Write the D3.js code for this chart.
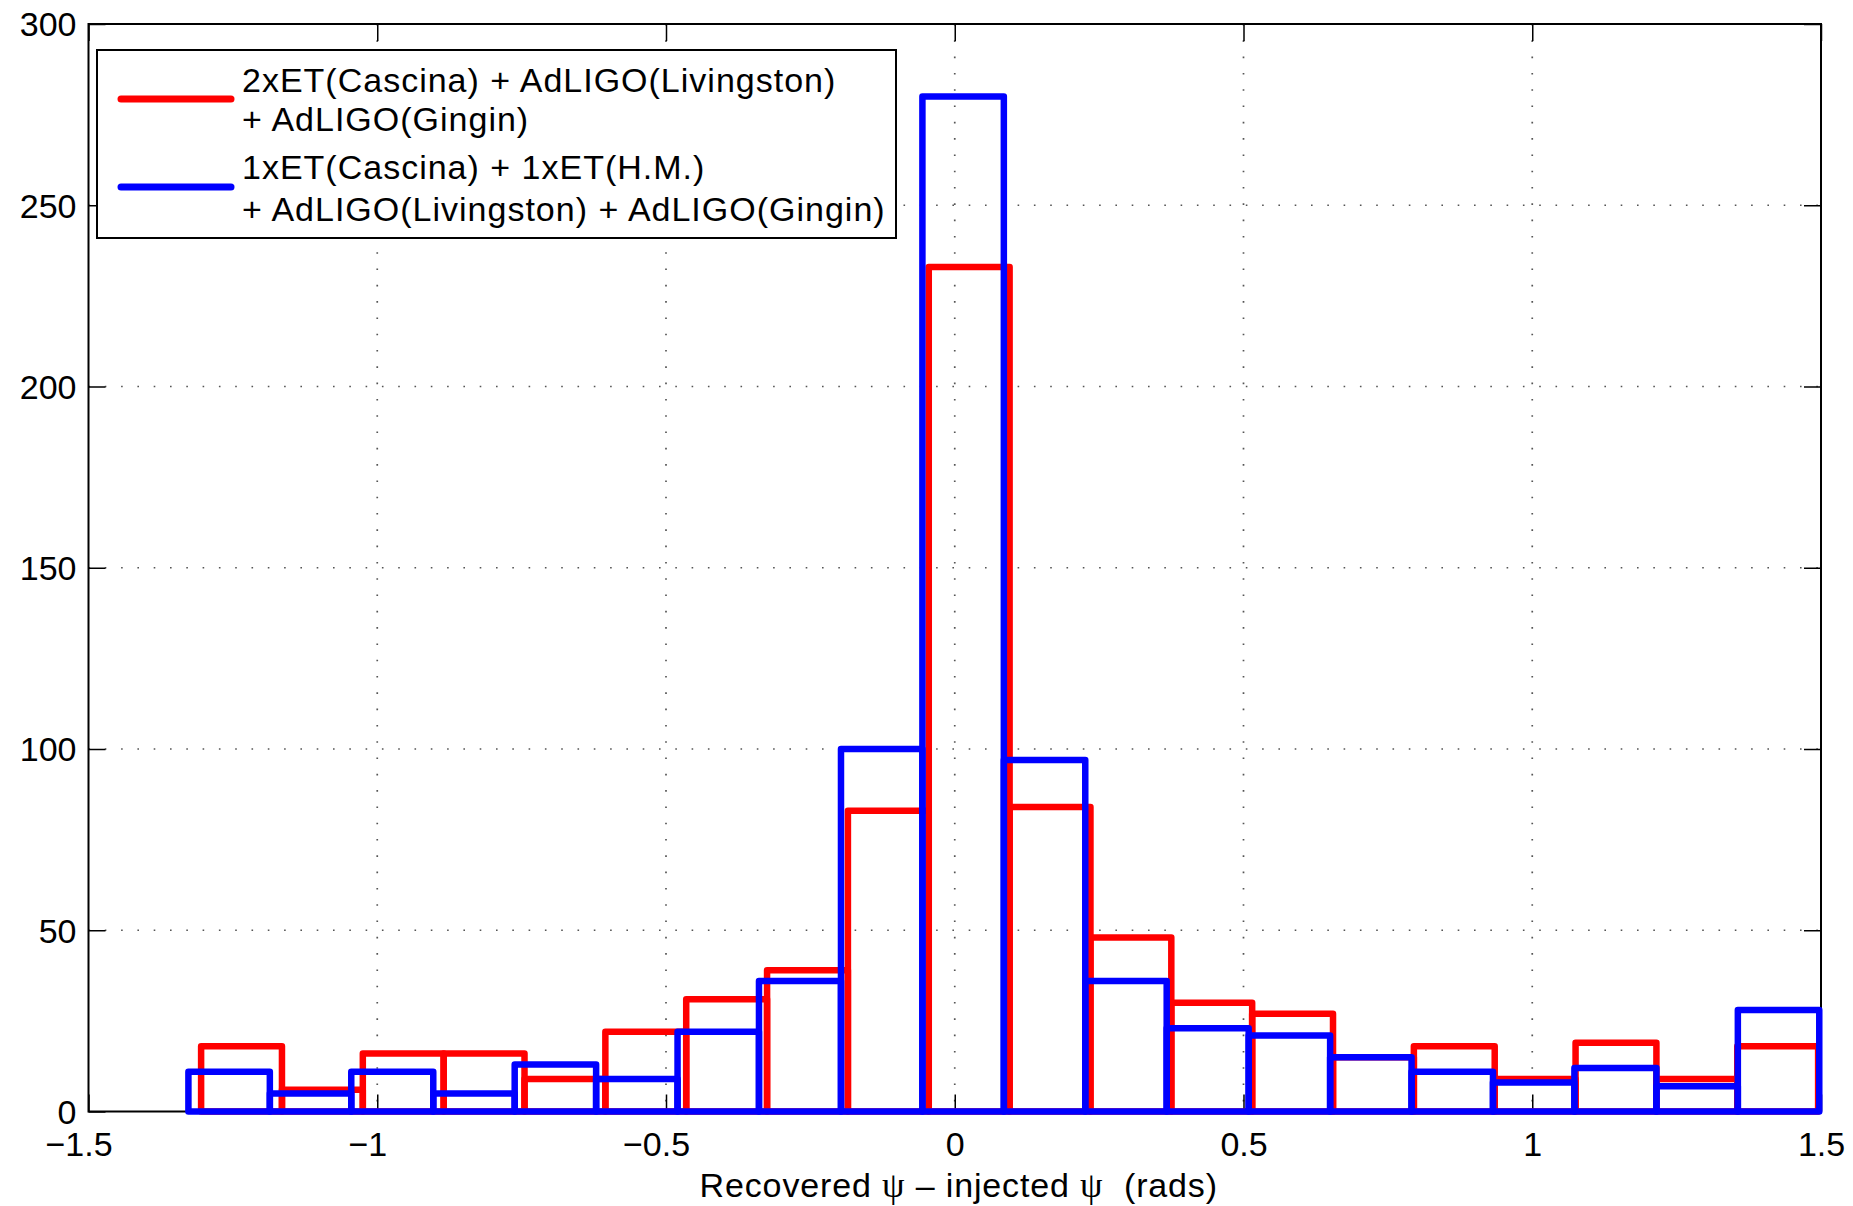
<!DOCTYPE html>
<html>
<head>
<meta charset="utf-8">
<script src="https://d3js.org/d3.v7.min.js"></script>
<style>
  html, body { margin: 0; padding: 0; background: #fff; }
  svg { display: block; }
  text { font-family: "Liberation Sans", Arial, Helvetica, sans-serif; }
</style>
</head>
<body>
<svg id="chart" width="1853" height="1206"></svg>
<script>
// ---- data ----
const redEdges  = [-1.305, -1.165, -1.025, -0.885, -0.745, -0.605, -0.465, -0.325, -0.185, -0.045,
                    0.095,  0.235,  0.375,  0.515,  0.655,  0.795,  0.935,  1.075,  1.215,  1.355, 1.495];
const redCounts = [18, 6, 16, 16, 9, 22, 31, 39, 83, 233, 84, 48, 30, 27, 15, 18, 9, 19, 9, 18];

const blueEdges  = [-1.327, -1.186, -1.045, -0.903, -0.762, -0.621, -0.480, -0.339, -0.197, -0.056,
                     0.085,  0.226,  0.367,  0.509,  0.650,  0.791,  0.932,  1.073,  1.215,  1.356, 1.497];
const blueCounts = [11, 5, 11, 5, 13, 9, 22, 36, 100, 280, 97, 36, 23, 21, 15, 11, 8, 12, 7, 28];

const xTicks = [-1.5, -1, -0.5, 0, 0.5, 1, 1.5];
const yTicks = [0, 50, 100, 150, 200, 250, 300];
const legendRed  = ["2xET(Cascina) + AdLIGO(Livingston)", "+ AdLIGO(Gingin)"];
const legendBlue = ["1xET(Cascina) + 1xET(H.M.)", "+ AdLIGO(Livingston) + AdLIGO(Gingin)"];
const xLabelParts = ["Recovered ", "ψ", " – injected ", "ψ", "  (rads)"];

// ---- layout ----
const svg = d3.select("#chart");
const L = 88.5, R = 1821, T = 24, B = 1111.5;
const x = d3.scaleLinear().domain([-1.5, 1.5]).range([L, R]);
const y = d3.scaleLinear().domain([0, 300]).range([B, T]);
const FS = 34;
const tickLen = 17;

// grid
const grid = svg.append("g").attr("stroke", "#555").attr("stroke-width", 1.7)
  .attr("stroke-dasharray", "1.6,14.7");
grid.selectAll("line.gx").data(xTicks.slice(1, -1)).join("line")
  .attr("x1", d => x(d)).attr("x2", d => x(d)).attr("y1", T).attr("y2", B);
grid.selectAll("line.gy").data(yTicks.slice(1, -1)).join("line")
  .attr("x1", L).attr("x2", R).attr("y1", d => y(d)).attr("y2", d => y(d));

// axes (drawn below data, like MATLAB default layer)
const fmt = d => String(d);
const gB = svg.append("g").attr("transform", `translate(0,${B})`)
  .call(d3.axisBottom(x).tickValues(xTicks).tickSizeInner(-tickLen).tickSizeOuter(0).tickPadding(20.5).tickFormat(d => fmt(Math.abs(d))));
const gT = svg.append("g").attr("transform", `translate(0,${T})`)
  .call(d3.axisTop(x).tickValues(xTicks).tickSizeInner(-tickLen).tickSizeOuter(0).tickFormat(""));
const gL = svg.append("g").attr("transform", `translate(${L},0)`)
  .call(d3.axisLeft(y).tickValues(yTicks).tickSizeInner(-tickLen).tickSizeOuter(0).tickPadding(12).tickFormat(fmt));
const gR = svg.append("g").attr("transform", `translate(${R},0)`)
  .call(d3.axisRight(y).tickValues(yTicks).tickSizeInner(-tickLen).tickSizeOuter(0).tickFormat(""));
[gB, gT, gL, gR].forEach(g => {
  g.select(".domain").remove();
  g.selectAll(".tick line").attr("stroke", "#000").attr("stroke-width", 1.5);
  g.selectAll("text").attr("font-size", FS).attr("fill", "#000")
    .attr("font-family", "'Liberation Sans', Arial, Helvetica, sans-serif");
});
gL.selectAll("text").attr("dy", "0.35em");
// negative labels: centre the numeric part, let the minus hang left (MATLAB style)
gB.selectAll(".tick text").each(function(d) {
  if (d < 0) {
    const t = d3.select(this);
    const w = this.getComputedTextLength();
    t.text("\u2212" + fmt(Math.abs(d))).attr("text-anchor", "end").attr("x", w / 2);
  }
});
// box
svg.append("rect").attr("x", L).attr("y", T).attr("width", R - L).attr("height", B - T)
  .attr("fill", "none").attr("stroke", "#000").attr("stroke-width", 2);

// histogram outlines
function drawHist(edges, counts, color) {
  const bins = counts.map((c, i) => ({x0: edges[i], x1: edges[i + 1], c}));
  svg.append("g").selectAll("rect").data(bins).join("rect")
    .attr("x", d => x(d.x0)).attr("y", d => y(d.c))
    .attr("width", d => x(d.x1) - x(d.x0)).attr("height", d => y(0) - y(d.c))
    .attr("fill", "none").attr("stroke", color).attr("stroke-width", 6.5)
    .attr("stroke-linejoin", "round");
}
drawHist(redEdges, redCounts, "#ff0000");
drawHist(blueEdges, blueCounts, "#0000ff");

// legend
const lg = svg.append("g");
lg.append("rect").attr("x", 97).attr("y", 50).attr("width", 799).attr("height", 188)
  .attr("fill", "#fff").attr("stroke", "#000").attr("stroke-width", 2);
const entries = [
  {lines: legendRed, color: "#ff0000", ly: 99, base: [92, 131]},
  {lines: legendBlue, color: "#0000ff", ly: 187, base: [179, 221]}
];
entries.forEach(e => {
  lg.append("line").attr("x1", 121).attr("x2", 231).attr("y1", e.ly).attr("y2", e.ly)
    .attr("stroke", e.color).attr("stroke-width", 7).attr("stroke-linecap", "round");
  e.lines.forEach((s, i) => {
    lg.append("text").attr("x", 242).attr("y", e.base[i]).attr("font-size", FS)
      .attr("letter-spacing", "1px").attr("fill", "#000").text(s);
  });
});

// x label
const xl = svg.append("text").attr("x", (L + R) / 2 + 4).attr("y", 1197)
  .attr("text-anchor", "middle").attr("font-size", FS).attr("fill", "#000")
  .attr("letter-spacing", "0.85px")
  .style("white-space", "pre");
xLabelParts.forEach(p => {
  const ts = xl.append("tspan").text(p);
  if (p === "ψ") ts.attr("font-family", "'Liberation Serif', 'DejaVu Serif', serif").attr("font-size", FS + 2);
});
</script>
</body>
</html>
